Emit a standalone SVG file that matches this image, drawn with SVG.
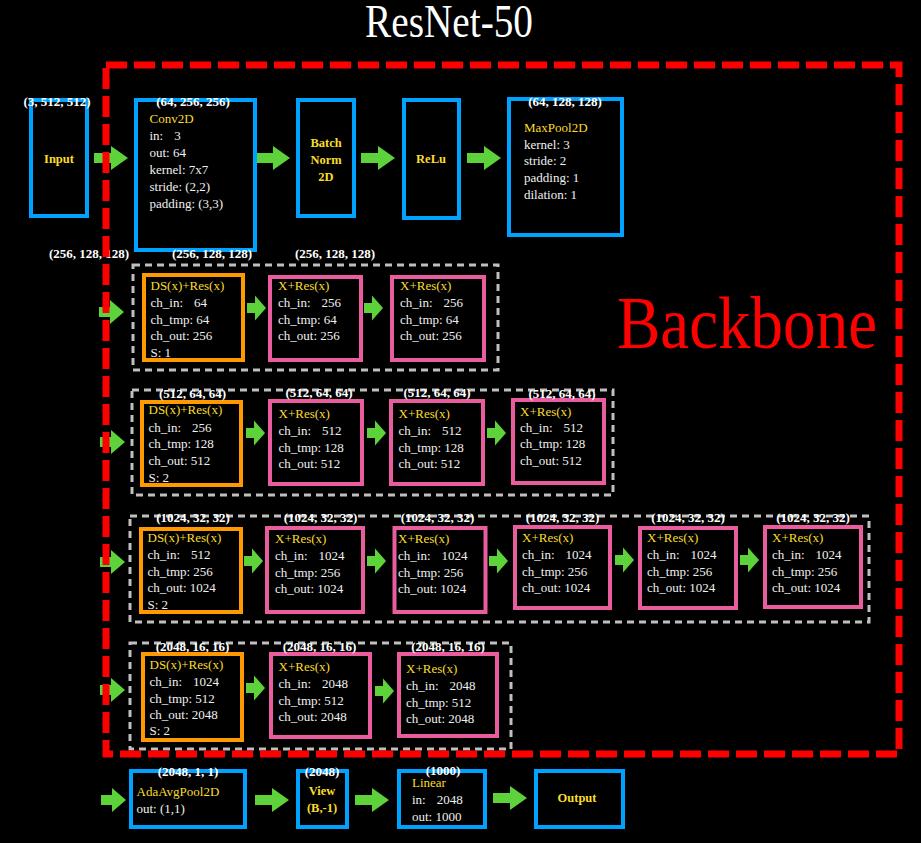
<svg xmlns="http://www.w3.org/2000/svg" xmlns:xlink="http://www.w3.org/1999/xlink" width="921" height="843" viewBox="0 0 921 843">
  <style>
    text { font-family: "Liberation Serif", "Times New Roman", serif; }
    .blue { fill: #000; stroke: #00a2ff; stroke-width: 4; }
    .ds { fill: #000; stroke: #ff9900; stroke-width: 4; }
    .res { fill: #000; stroke: #e95c9e; stroke-width: 4; }
    .stage { fill: none; stroke: #bfbfbf; stroke-width: 3; stroke-dasharray: 7 5; }
    .shape { font-size: 13px; font-weight: bold; fill: #ffffff; text-anchor: middle; }
    .head { font-size: 13px; fill: #fadc2c; }
    .headc { font-size: 12.5px; font-weight: bold; fill: #fadc2c; text-anchor: middle; }
    .body { font-size: 13px; fill: #f0f0f0; }
    .arrow { fill: #5dd23a; }
  </style>
  <defs>
    <!-- arrow shapes, tip at the origin -->
    <path id="arrow-big" d="M-34,-5 H-17 V-12 L0,0 L-17,12 V5 H-34 Z"/>
    <path id="arrow-small" d="M-19,-5 H-11 V-12.5 L0,0 L-11,12.5 V5 H-19 Z"/>
    <path id="arrow-entry" d="M-25,-5 H-14 V-12 L0,0 L-14,12 V5 H-25 Z"/>
  </defs>

  <rect x="0" y="0" width="921" height="843" fill="#000"/>

  <text x="365" y="37" font-size="46" fill="#ffffff" textLength="168" lengthAdjust="spacingAndGlyphs">ResNet-50</text>

  <!-- stage frames -->
  <g id="stages">
    <rect class="stage" x="133" y="265" width="365" height="105"/>
    <rect class="stage" x="132" y="390" width="481" height="105"/>
    <rect class="stage" x="130" y="516" width="739" height="106"/>
    <rect class="stage" x="130" y="643" width="381" height="106"/>
  </g>

  <!-- connectors -->
  <g id="connectors" class="arrow">
    <use xlink:href="#arrow-big" x="128" y="158"/>
    <use xlink:href="#arrow-big" x="290" y="158"/>
    <use xlink:href="#arrow-big" x="395" y="158"/>
    <use xlink:href="#arrow-big" x="501" y="158"/>

    <use xlink:href="#arrow-entry" x="124" y="312"/>
    <use xlink:href="#arrow-small" x="266" y="308"/>
    <use xlink:href="#arrow-small" x="383" y="308"/>

    <use xlink:href="#arrow-entry" x="125" y="442"/>
    <use xlink:href="#arrow-small" x="265" y="433"/>
    <use xlink:href="#arrow-small" x="386" y="433"/>
    <use xlink:href="#arrow-small" x="506" y="433"/>

    <use xlink:href="#arrow-entry" x="125" y="562"/>
    <use xlink:href="#arrow-small" x="263" y="561"/>
    <use xlink:href="#arrow-small" x="386" y="561"/>
    <use xlink:href="#arrow-small" x="508" y="561"/>
    <use xlink:href="#arrow-small" x="634" y="560"/>
    <use xlink:href="#arrow-small" x="759" y="560"/>

    <use xlink:href="#arrow-entry" x="125" y="690"/>
    <use xlink:href="#arrow-small" x="265" y="688"/>
    <use xlink:href="#arrow-small" x="394" y="691"/>

    <use xlink:href="#arrow-entry" x="126" y="800"/>
    <use xlink:href="#arrow-big" x="289" y="800"/>
    <use xlink:href="#arrow-big" x="389" y="800"/>
    <use xlink:href="#arrow-big" x="527" y="798"/>
  </g>

  <!-- stem -->
  <g id="input">
    <rect class="blue" x="31" y="100" width="56" height="116"/>
    <text class="shape" x="57" y="106">(3, 512, 512)</text>
    <text class="headc" x="59" y="163">Input</text>
  </g>
  <g id="conv1">
    <rect class="blue" x="136" y="100" width="119" height="150"/>
    <text class="shape" x="193" y="106">(64, 256, 256)</text>
    <text class="head" x="149.5" y="123">Conv2D</text>
    <text class="body" x="149.5" y="140">in:<tspan dx="11">3</tspan></text>
    <text class="body" x="149.5" y="157">out: 64</text>
    <text class="body" x="149.5" y="174">kernel: 7x7</text>
    <text class="body" x="149.5" y="191">stride: (2,2)</text>
    <text class="body" x="149.5" y="208">padding: (3,3)</text>
  </g>
  <g id="bn1">
    <rect class="blue" x="298" y="100" width="56" height="116"/>
    <text class="headc" x="326" y="147">Batch</text>
    <text class="headc" x="326" y="164">Norm</text>
    <text class="headc" x="326" y="181">2D</text>
  </g>
  <g id="relu">
    <rect class="blue" x="404" y="100" width="55" height="118"/>
    <text class="headc" x="431" y="163">ReLu</text>
  </g>
  <g id="maxpool">
    <rect class="blue" x="509" y="99" width="113" height="136"/>
    <text class="shape" x="565" y="106">(64, 128, 128)</text>
    <text class="head" x="524" y="132">MaxPool2D</text>
    <text class="body" x="524" y="148.5">kernel: 3</text>
    <text class="body" x="524" y="165">stride: 2</text>
    <text class="body" x="524" y="182">padding: 1</text>
    <text class="body" x="524" y="198.5">dilation: 1</text>
  </g>

  <!-- layer1 -->
  <text class="shape" x="89" y="258">(256, 128, 128)</text>
  <g id="layer1-0">
    <rect class="ds" x="144" y="275" width="99" height="85"/>
    <text class="shape" x="212" y="258">(256, 128, 128)</text>
    <text class="head" x="150.5" y="290">DS(x)+Res(x)</text>
    <text class="body" x="150.5" y="307">ch_in:<tspan dx="11">64</tspan></text>
    <text class="body" x="150.5" y="323.5">ch_tmp: 64</text>
    <text class="body" x="150.5" y="340">ch_out: 256</text>
    <text class="body" x="150.5" y="357">S: 1</text>
  </g>
  <g id="layer1-1">
    <rect class="res" x="270" y="277" width="91" height="83"/>
    <text class="shape" x="335" y="258">(256, 128, 128)</text>
    <text class="head" x="278" y="290">X+Res(x)</text>
    <text class="body" x="278" y="307">ch_in:<tspan dx="11">256</tspan></text>
    <text class="body" x="278" y="323.5">ch_tmp: 64</text>
    <text class="body" x="278" y="340">ch_out: 256</text>
  </g>
  <g id="layer1-2">
    <rect class="res" x="392" y="277" width="92" height="83"/>
    <text class="head" x="400" y="290">X+Res(x)</text>
    <text class="body" x="400" y="307">ch_in:<tspan dx="11">256</tspan></text>
    <text class="body" x="400" y="323.5">ch_tmp: 64</text>
    <text class="body" x="400" y="340">ch_out: 256</text>
  </g>

  <!-- layer2 -->
  <g id="layer2-0">
    <rect class="ds" x="142" y="402" width="99" height="83"/>
    <text class="shape" x="192.5" y="398">(512, 64, 64)</text>
    <text class="head" x="148.5" y="414">DS(x)+Res(x)</text>
    <text class="body" x="148.5" y="431.5">ch_in:<tspan dx="11">256</tspan></text>
    <text class="body" x="148.5" y="448">ch_tmp: 128</text>
    <text class="body" x="148.5" y="465">ch_out: 512</text>
    <text class="body" x="148.5" y="481.5">S: 2</text>
  </g>
  <g id="layer2-1">
    <rect class="res" x="270" y="401" width="92" height="83"/>
    <text class="shape" x="319" y="397">(512, 64, 64)</text>
    <text class="head" x="278.5" y="418">X+Res(x)</text>
    <text class="body" x="278.5" y="435">ch_in:<tspan dx="11">512</tspan></text>
    <text class="body" x="278.5" y="451.5">ch_tmp: 128</text>
    <text class="body" x="278.5" y="468">ch_out: 512</text>
  </g>
  <g id="layer2-2">
    <rect class="res" x="391" y="401" width="92" height="83"/>
    <text class="shape" x="437" y="397">(512, 64, 64)</text>
    <text class="head" x="398.5" y="418">X+Res(x)</text>
    <text class="body" x="398.5" y="435">ch_in:<tspan dx="11">512</tspan></text>
    <text class="body" x="398.5" y="451.5">ch_tmp: 128</text>
    <text class="body" x="398.5" y="468">ch_out: 512</text>
  </g>
  <g id="layer2-3">
    <rect class="res" x="513" y="400" width="91" height="83"/>
    <text class="shape" x="562" y="398">(512, 64, 64)</text>
    <text class="head" x="520" y="415.5">X+Res(x)</text>
    <text class="body" x="520" y="431.5">ch_in:<tspan dx="11">512</tspan></text>
    <text class="body" x="520" y="448">ch_tmp: 128</text>
    <text class="body" x="520" y="465">ch_out: 512</text>
  </g>

  <!-- layer3 -->
  <g id="layer3-0">
    <rect class="ds" x="141" y="529" width="100" height="83"/>
    <text class="shape" x="193" y="521.5">(1024, 32, 32)</text>
    <text class="head" x="147.5" y="542">DS(x)+Res(x)</text>
    <text class="body" x="147.5" y="559">ch_in:<tspan dx="11">512</tspan></text>
    <text class="body" x="147.5" y="575.5">ch_tmp: 256</text>
    <text class="body" x="147.5" y="592">ch_out: 1024</text>
    <text class="body" x="147.5" y="608.5">S: 2</text>
  </g>
  <g id="layer3-1">
    <rect class="res" x="267" y="528" width="96" height="84"/>
    <text class="shape" x="320.5" y="521.5">(1024, 32, 32)</text>
    <text class="head" x="275" y="543">X+Res(x)</text>
    <text class="body" x="275" y="560">ch_in:<tspan dx="11">1024</tspan></text>
    <text class="body" x="275" y="576.5">ch_tmp: 256</text>
    <text class="body" x="275" y="593">ch_out: 1024</text>
  </g>
  <g id="layer3-2">
    <rect class="res" x="394.5" y="528" width="91" height="84"/>
    <text class="shape" x="437.5" y="521.5">(1024, 32, 32)</text>
    <text class="head" x="398" y="543">X+Res(x)</text>
    <text class="body" x="398" y="560">ch_in:<tspan dx="11">1024</tspan></text>
    <text class="body" x="398" y="576.5">ch_tmp: 256</text>
    <text class="body" x="398" y="593">ch_out: 1024</text>
  </g>
  <g id="layer3-3">
    <rect class="res" x="515" y="527" width="95" height="81"/>
    <text class="shape" x="562.5" y="521.5">(1024, 32, 32)</text>
    <text class="head" x="522" y="542">X+Res(x)</text>
    <text class="body" x="522" y="559">ch_in:<tspan dx="11">1024</tspan></text>
    <text class="body" x="522" y="575.5">ch_tmp: 256</text>
    <text class="body" x="522" y="592">ch_out: 1024</text>
  </g>
  <g id="layer3-4">
    <rect class="res" x="640" y="528" width="96" height="80"/>
    <text class="shape" x="688" y="521.5">(1024, 32, 32)</text>
    <text class="head" x="647" y="542">X+Res(x)</text>
    <text class="body" x="647" y="559">ch_in:<tspan dx="11">1024</tspan></text>
    <text class="body" x="647" y="575.5">ch_tmp: 256</text>
    <text class="body" x="647" y="592">ch_out: 1024</text>
  </g>
  <g id="layer3-5">
    <rect class="res" x="765" y="527" width="96" height="80"/>
    <text class="shape" x="813" y="521.5">(1024, 32, 32)</text>
    <text class="head" x="772" y="542">X+Res(x)</text>
    <text class="body" x="772" y="559">ch_in:<tspan dx="11">1024</tspan></text>
    <text class="body" x="772" y="575.5">ch_tmp: 256</text>
    <text class="body" x="772" y="592">ch_out: 1024</text>
  </g>

  <!-- layer4 -->
  <g id="layer4-0">
    <rect class="ds" x="143" y="654" width="99" height="86"/>
    <text class="shape" x="192.5" y="651">(2048, 16, 16)</text>
    <text class="head" x="149.5" y="669">DS(x)+Res(x)</text>
    <text class="body" x="149.5" y="686">ch_in:<tspan dx="11">1024</tspan></text>
    <text class="body" x="149.5" y="702.5">ch_tmp: 512</text>
    <text class="body" x="149.5" y="719">ch_out: 2048</text>
    <text class="body" x="149.5" y="735">S: 2</text>
  </g>
  <g id="layer4-1">
    <rect class="res" x="271" y="654" width="99" height="83"/>
    <text class="shape" x="319.5" y="651">(2048, 16, 16)</text>
    <text class="head" x="278.5" y="671">X+Res(x)</text>
    <text class="body" x="278.5" y="688">ch_in:<tspan dx="11">2048</tspan></text>
    <text class="body" x="278.5" y="704.5">ch_tmp: 512</text>
    <text class="body" x="278.5" y="721">ch_out: 2048</text>
  </g>
  <g id="layer4-2">
    <rect class="res" x="399" y="654" width="98" height="82"/>
    <text class="shape" x="448" y="651">(2048, 16, 16)</text>
    <text class="head" x="406" y="673">X+Res(x)</text>
    <text class="body" x="406" y="690">ch_in:<tspan dx="11">2048</tspan></text>
    <text class="body" x="406" y="706.5">ch_tmp: 512</text>
    <text class="body" x="406" y="723">ch_out: 2048</text>
  </g>

  <!-- head -->
  <g id="avgpool">
    <rect class="blue" x="131" y="771" width="114" height="56"/>
    <text class="shape" x="188" y="776">(2048, 1, 1)</text>
    <text class="head" x="136.5" y="796">AdaAvgPool2D</text>
    <text class="body" x="136.5" y="813">out: (1,1)</text>
  </g>
  <g id="view">
    <rect class="blue" x="298" y="771" width="49" height="56"/>
    <text class="shape" x="322" y="776">(2048)</text>
    <text class="headc" x="322" y="795">View</text>
    <text class="headc" x="322" y="812">(B,-1)</text>
  </g>
  <g id="linear">
    <rect class="blue" x="399" y="771" width="86" height="56"/>
    <text class="shape" x="443" y="775">(1000)</text>
    <text class="head" x="412" y="787">Linear</text>
    <text class="body" x="412" y="804">in:<tspan dx="11">2048</tspan></text>
    <text class="body" x="412" y="821">out: 1000</text>
  </g>
  <g id="output">
    <rect class="blue" x="536" y="771" width="87" height="56"/>
    <text class="headc" x="577" y="802">Output</text>
  </g>

  <!-- backbone frame -->
  <g id="backbone">
    <rect x="106" y="65" width="793" height="689" fill="none" stroke="#ff0000" stroke-width="7" stroke-dasharray="21 7"/>
    <text x="617" y="348" font-size="75" fill="#ff0000" textLength="260" lengthAdjust="spacingAndGlyphs">Backbone</text>
  </g>
</svg>
